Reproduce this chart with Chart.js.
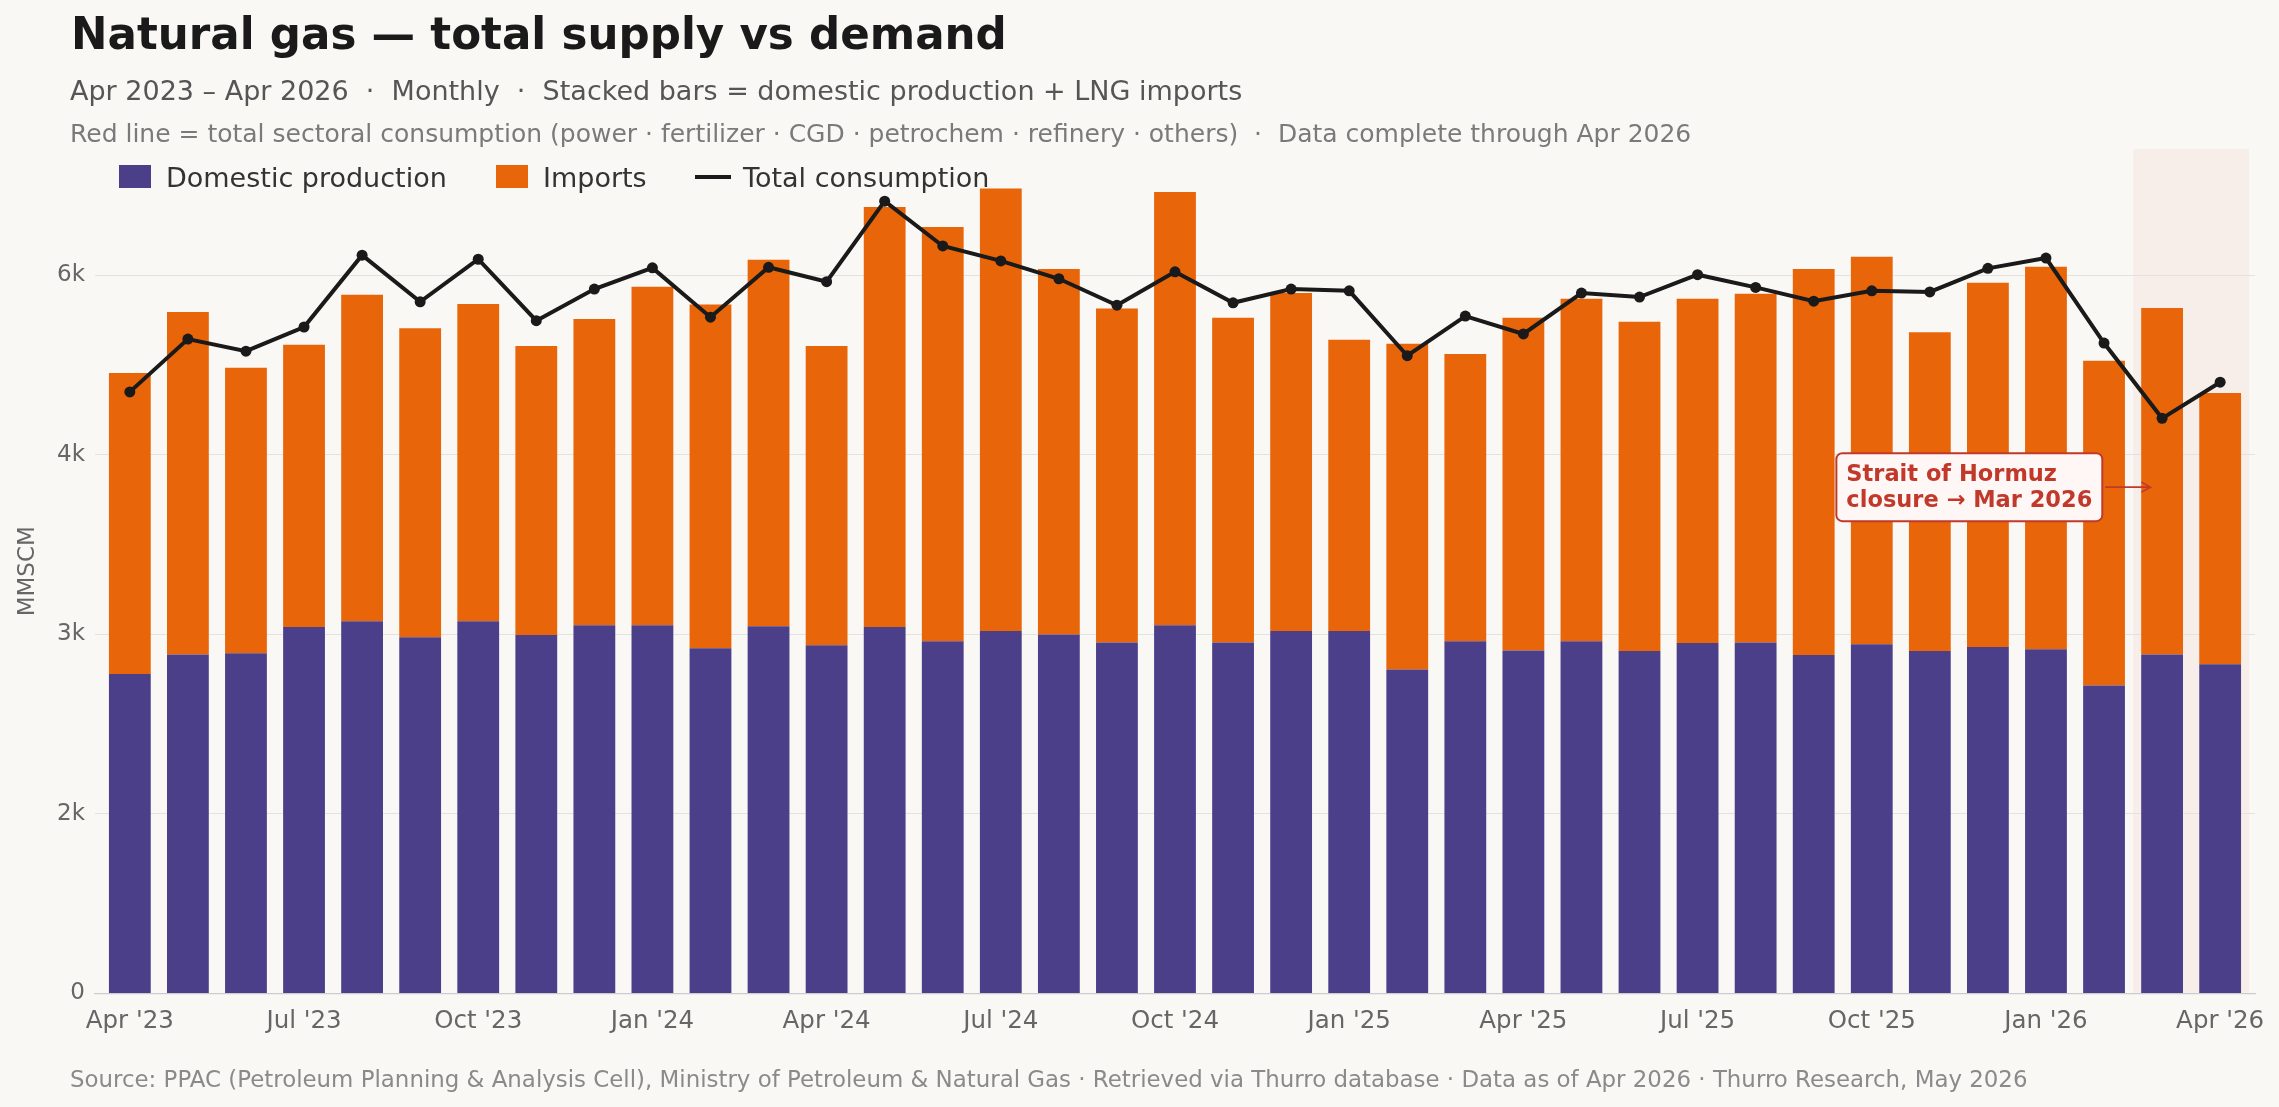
<!DOCTYPE html>
<html>
<head>
<meta charset="utf-8">
<title>Natural gas — total supply vs demand</title>
<script src="https://cdn.jsdelivr.net/npm/chart.js@4.4.1/dist/chart.umd.min.js"></script>
<style>
  body { margin: 0; background: #F9F8F5; font-family: "DejaVu Sans", sans-serif; }
  #wrap { position: relative; width: 2279px; height: 1107px; overflow: hidden; }
  #gasChart { position: absolute; left: 0; top: 0; }
  .txt { position: absolute; white-space: nowrap; line-height: 1; }
  .title { left: 71px; top: 13px; font-size: 43.6px; font-weight: bold; color: #1a1a1a; }
  .sub1 { left: 70px; top: 77px; font-size: 27px; color: #555; }
  .sub2 { left: 70px; top: 121px; font-size: 25px; color: #7a7a7a; }
  .foot { left: 70px; top: 1068px; font-size: 22.9px; color: #8a8a8a; }
  .lg-box { position: absolute; top: 165px; width: 32px; height: 23px; }
  .lg-line { position: absolute; top: 175px; width: 36px; height: 4px; background: #1a1a1a; }
  .lg-txt { top: 164px; font-size: 27px; color: #333; }
</style>
</head>
<body>
<div id="wrap">
  <canvas id="gasChart" width="2279" height="1107"></canvas>

  <div class="txt title">Natural gas — total supply vs demand</div>
  <div class="txt sub1">Apr 2023 – Apr 2026 &nbsp;·&nbsp; Monthly &nbsp;·&nbsp; Stacked bars = domestic production + LNG imports</div>
  <div class="txt sub2">Red line = total sectoral consumption (power · fertilizer · CGD · petrochem · refinery · others) &nbsp;·&nbsp; Data complete through Apr 2026</div>

  <!-- legend (sits inside the plot, top-left) -->
  <div class="lg-box" style="left:119px; background:#4B3F8A;"></div>
  <div class="txt lg-txt" style="left:166px;">Domestic production</div>
  <div class="lg-box" style="left:496px; background:#E8650A;"></div>
  <div class="txt lg-txt" style="left:543px;">Imports</div>
  <div class="lg-line" style="left:695px;"></div>
  <div class="txt lg-txt" style="left:743px;">Total consumption</div>

  <div class="txt foot">Source: PPAC (Petroleum Planning &amp; Analysis Cell), Ministry of Petroleum &amp; Natural Gas · Retrieved via Thurro database · Data as of Apr 2026 · Thurro Research, May 2026</div>
</div>

<script>
// --- 1. data (MMSCM per month, Apr 2023 .. Apr 2026) ---
const months = [
  'Apr 2023', 'May 2023', 'Jun 2023', 'Jul 2023', 'Aug 2023', 'Sep 2023', 'Oct 2023', 'Nov 2023', 'Dec 2023',
  'Jan 2024', 'Feb 2024', 'Mar 2024', 'Apr 2024', 'May 2024', 'Jun 2024', 'Jul 2024', 'Aug 2024', 'Sep 2024',
  'Oct 2024', 'Nov 2024', 'Dec 2024', 'Jan 2025', 'Feb 2025', 'Mar 2025', 'Apr 2025', 'May 2025', 'Jun 2025',
  'Jul 2025', 'Aug 2025', 'Sep 2025', 'Oct 2025', 'Nov 2025', 'Dec 2025', 'Jan 2026', 'Feb 2026', 'Mar 2026',
  'Apr 2026'
];

const domestic = [
  2669, 2832, 2842, 3062, 3110, 2976, 3110, 2995, 3077, 3077, 2885, 3067, 2909,
  3062, 2942, 3029, 3000, 2933, 3077, 2933, 3029, 3029, 2707, 2942, 2866,
  2942, 2861, 2928, 2933, 2827, 2918, 2861, 2894, 2875, 2573, 2832, 2750
];

const imports = [
  2515, 2861, 2385, 2357, 2727, 2582, 2650, 2415, 2558, 2827, 2870, 3063, 2501,
  3509, 3461, 3696, 3053, 2789, 3619, 2712, 2822, 2433, 2722, 2400, 2779,
  2861, 2750, 2875, 2913, 3226, 3236, 2664, 3044, 3197, 2712, 2894, 2266
];

const consumption = [
  5026, 5467, 5366, 5568, 6168, 5779, 6134, 5621, 5885, 6062, 5650, 6067, 5947,
  6619, 6245, 6120, 5971, 5750, 6029, 5770, 5885, 5870, 5328, 5659, 5510,
  5851, 5818, 6005, 5899, 5784, 5870, 5861, 6058, 6144, 5434, 4805, 5107
];

// x ticks every quarter
const xTickPos = [0, 3, 6, 9, 12, 15, 18, 21, 24, 27, 30, 33, 36];
const xTickLabels = ["Apr '23", "Jul '23", "Oct '23", "Jan '24", "Apr '24", "Jul '24", "Oct '24",
                     "Jan '25", "Apr '25", "Jul '25", "Oct '25", "Jan '26", "Apr '26"];

// y ticks (labels rounded to whole thousands)
const yTickVals = [0, 1500, 3000, 4500, 6000];
const yTickLabels = ['0', '2k', '3k', '4k', '6k'];

// shaded months (Mar–Apr 2026) and annotation
const shadeFrom = 34.5;
const shadeTo = 36.5;
const noteLines = ['Strait of Hormuz', 'closure → Mar 2026'];

const COLORS = {
  domestic: '#4B3F8A',
  imports: '#E8650A',
  line: '#1a1a1a',
  shade: '#F8EEE9',
  grid: '#E4E2DE',
  axis: '#CCCCCC',
  tick: '#666666',
  note: '#C0392B'
};

function toPoints(values) {
  return values.map((v, i) => ({ x: i, y: v }));
}

// --- 2. plugins: shaded band + Hormuz note ---
const shadePlugin = {
  id: 'shadeBand',
  beforeDraw(chart) {
    const { ctx, chartArea, scales } = chart;
    const x0 = scales.x.getPixelForValue(shadeFrom);
    const x1 = scales.x.getPixelForValue(shadeTo);
    ctx.save();
    ctx.fillStyle = COLORS.shade;
    ctx.fillRect(x0, chartArea.top, x1 - x0, chartArea.bottom - chartArea.top);
    ctx.restore();
  }
};

const notePlugin = {
  id: 'hormuzNote',
  afterDatasetsDraw(chart) {
    const { ctx, scales } = chart;
    const tipX = scales.x.getPixelForValue(34.8);
    const midY = scales.y.getPixelForValue(4230);
    const boxRight = scales.x.getPixelForValue(33.97);

    ctx.save();
    ctx.font = 'bold 22.5px "DejaVu Sans"';
    const w = Math.max(...noteLines.map(t => ctx.measureText(t).width));
    const padX = 10;
    const boxW = w + padX * 2;
    const boxH = 68;
    const left = boxRight - boxW;
    const top = midY - boxH / 2;

    ctx.beginPath();
    ctx.roundRect(left, top, boxW, boxH, 6);
    ctx.fillStyle = '#FFF7F5';
    ctx.fill();
    ctx.lineWidth = 2;
    ctx.strokeStyle = COLORS.note;
    ctx.stroke();

    ctx.fillStyle = COLORS.note;
    ctx.textBaseline = 'alphabetic';
    ctx.fillText(noteLines[0], left + padX, top + 28);
    ctx.fillText(noteLines[1], left + padX, top + 54);

    // arrow
    ctx.lineWidth = 1.6;
    ctx.beginPath();
    ctx.moveTo(boxRight + 3, midY);
    ctx.lineTo(tipX, midY);
    ctx.moveTo(tipX - 9, midY - 5);
    ctx.lineTo(tipX, midY);
    ctx.lineTo(tipX - 9, midY + 5);
    ctx.stroke();
    ctx.restore();
  }
};

// --- 3. chart ---
function initGasChart() {
  const ctx = document.getElementById('gasChart').getContext('2d');

  new Chart(ctx, {
    type: 'bar',
    data: {
      datasets: [
        {
          type: 'line',
          label: 'Total consumption',
          data: toPoints(consumption),
          borderColor: COLORS.line,
          backgroundColor: COLORS.line,
          borderWidth: 4,
          pointRadius: 5.5,
          pointBackgroundColor: COLORS.line,
          pointBorderWidth: 0,
          tension: 0,
          stack: 'demand',
          order: 0
        },
        {
          label: 'Domestic production',
          data: toPoints(domestic),
          backgroundColor: COLORS.domestic,
          stack: 'supply',
          order: 1
        },
        {
          label: 'Imports',
          data: toPoints(imports),
          backgroundColor: COLORS.imports,
          stack: 'supply',
          order: 1
        }
      ]
    },
    options: {
      responsive: false,
      animation: false,
      devicePixelRatio: 1,
      barPercentage: 0.72,
      categoryPercentage: 1,
      layout: { padding: { left: 0, top: 149, right: 24, bottom: 73.5 } },
      plugins: {
        legend: { display: false },
        tooltip: { enabled: false }
      },
      scales: {
        x: {
          type: 'linear',
          offset: false,
          stacked: true,
          min: -0.6,
          max: 36.6,
          grid: { display: false },
          border: { display: true, color: COLORS.axis, width: 1.2 },
          afterBuildTicks: scale => { scale.ticks = xTickPos.map(v => ({ value: v })); },
          afterFit: scale => { scale.height = 40; },
          ticks: {
            autoSkip: false,
            maxRotation: 0,
            padding: 5,
            color: COLORS.tick,
            font: { family: 'DejaVu Sans', size: 24.5 },
            callback: value => xTickLabels[xTickPos.indexOf(value)]
          }
        },
        y: {
          stacked: true,
          min: 0,
          max: 7055,
          border: { display: false },
          grid: {
            drawTicks: false,
            color: c => (c.tick && c.tick.value === 0 ? 'rgba(0,0,0,0)' : COLORS.grid),
            lineWidth: 1
          },
          afterBuildTicks: scale => { scale.ticks = yTickVals.map(v => ({ value: v })); },
          afterFit: scale => { scale.width = 95; },
          ticks: {
            padding: 10,
            color: COLORS.tick,
            font: { family: 'DejaVu Sans', size: 23 },
            callback: value => yTickLabels[yTickVals.indexOf(value)]
          },
          title: {
            display: true,
            text: 'MMSCM',
            color: COLORS.tick,
            padding: { top: 14, bottom: 0 },
            font: { family: 'DejaVu Sans', size: 23 }
          }
        }
      }
    },
    plugins: [shadePlugin, notePlugin]
  });
}

document.addEventListener('DOMContentLoaded', initGasChart);
</script>
</body>
</html>
